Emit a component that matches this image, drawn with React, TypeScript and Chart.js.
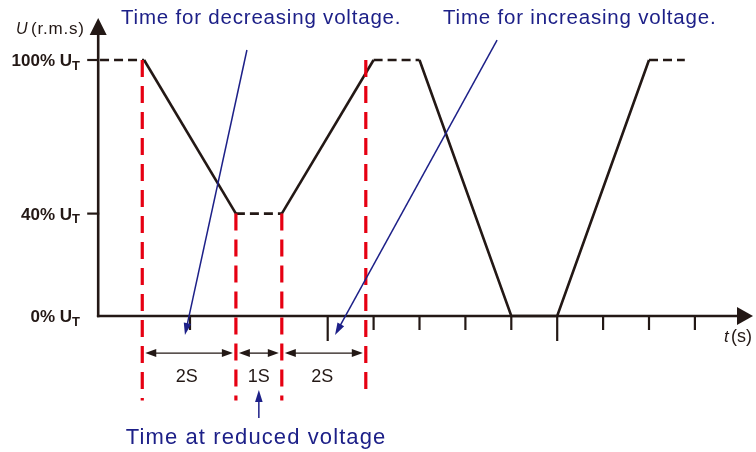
import React, { useEffect, useRef } from "react";
import { Chart, registerables } from "chart.js";
Chart.register(...registerables);

// Voltage waveform (time in s, level in % of U_T)
const waveTime = [0.04, 1, 3, 4, 6, 7, 9, 10, 12, 12.78];
const waveLevel = [100, 100, 40, 40, 100, 100, 0, 0, 100, 100];
const waveDashedSegments = [0, 2, 4, 8];

// Red dashed marker lines
const markerTimes = [0.96, 3, 4, 5.83];
const markerTop = [100, 40, 40, 100];
const markerBottom = [-33, -33, -33, -30];

// Axis ticks
const levelTicks = [100, 40, 0];
const levelLabels = ["100% U", "40% U", "0% U"];
const timeTicks = [2, 5, 6, 7, 8, 9, 10, 11, 12, 13];
const longTimeTicks = [5, 10];

// Duration spans
const spanStarts = [0.96, 3, 4];
const spanEnds = [3, 4, 5.83];
const spanLabels = ["2S", "1S", "2S"];
const spanLabelTimes = [1.93, 3.5, 4.88];
const spanLevel = -14.5;
const spanLabelLevel = -23.8;

// Blue annotations
const noteTexts = ["Time for decreasing voltage.", "Time for increasing voltage.", "Time at reduced voltage"];
const noteTextTimes = [3.55, 10.49, 3.44];
const noteTextLevels = [116.2, 116.2, -47.7];
const noteFromTimes = [3.24, 8.69, 3.5];
const noteFromLevels = [103.9, 107.8, -39.8];
const noteToTimes = [1.89, 5.16, 3.5];
const noteToLevels = [-7.4, -7.4, -28.9];

const BLACK = "#231815";
const RED = "#e60012";
const BLUE = "#1d2088";

function arrowHead(ctx: CanvasRenderingContext2D, x1: number, y1: number, x2: number, y2: number, len: number, half: number, color: string) {
  const a = Math.atan2(y2 - y1, x2 - x1);
  ctx.save();
  ctx.fillStyle = color;
  ctx.beginPath();
  ctx.moveTo(x2, y2);
  ctx.lineTo(x2 - len * Math.cos(a) + half * Math.sin(a), y2 - len * Math.sin(a) - half * Math.cos(a));
  ctx.lineTo(x2 - len * Math.cos(a) - half * Math.sin(a), y2 - len * Math.sin(a) + half * Math.cos(a));
  ctx.closePath();
  ctx.fill();
  ctx.restore();
}

const diagramPlugin = {
  id: "diagram",
  beforeDatasetsDraw(chart: any) {
    const ctx: CanvasRenderingContext2D = chart.ctx;
    const xs = chart.scales.x;
    const ys = chart.scales.y;
    const x0 = xs.getPixelForValue(0);
    const y0 = ys.getPixelForValue(0);
    ctx.save();
    ctx.strokeStyle = BLACK;
    ctx.fillStyle = BLACK;
    ctx.lineWidth = 2.6;
    // y axis
    ctx.beginPath();
    ctx.moveTo(x0, y0 + 1.3);
    ctx.lineTo(x0, 34);
    ctx.stroke();
    ctx.beginPath();
    ctx.moveTo(x0, 18);
    ctx.lineTo(x0 - 8.5, 35);
    ctx.lineTo(x0 + 8.5, 35);
    ctx.closePath();
    ctx.fill();
    // x axis
    const xe = 753;
    ctx.beginPath();
    ctx.moveTo(x0 - 1.3, y0);
    ctx.lineTo(xe - 14, y0);
    ctx.stroke();
    ctx.beginPath();
    ctx.moveTo(xe, y0);
    ctx.lineTo(xe - 16, y0 - 9);
    ctx.lineTo(xe - 16, y0 + 9);
    ctx.closePath();
    ctx.fill();
    // y ticks
    ctx.lineWidth = 2.2;
    levelTicks.forEach((v) => {
      if (v === 0) return;
      const y = ys.getPixelForValue(v);
      ctx.beginPath();
      ctx.moveTo(x0 - 11, y);
      ctx.lineTo(x0 + 1, y);
      ctx.stroke();
    });
    // x ticks
    timeTicks.forEach((t) => {
      const x = xs.getPixelForValue(t);
      const len = longTimeTicks.includes(t) ? 25 : 14;
      ctx.beginPath();
      ctx.moveTo(x, y0);
      ctx.lineTo(x, y0 + len);
      ctx.stroke();
    });
    ctx.restore();
  },
  afterDatasetsDraw(chart: any) {
    const ctx: CanvasRenderingContext2D = chart.ctx;
    const xs = chart.scales.x;
    const ys = chart.scales.y;
    const y0 = ys.getPixelForValue(0);
    ctx.save();
    // level labels
    ctx.fillStyle = BLACK;
    ctx.textBaseline = "alphabetic";
    levelTicks.forEach((v, i) => {
      const y = ys.getPixelForValue(v) + 6;
      ctx.font = "bold 13px 'Liberation Sans', Arial, sans-serif";
      ctx.textAlign = "left";
      const tw = ctx.measureText("T").width;
      ctx.fillText("T", 80 - tw, y + 3.5);
      ctx.font = "bold 17px 'Liberation Sans', Arial, sans-serif";
      ctx.textAlign = "right";
      ctx.fillText(levelLabels[i], 80 - tw, y);
    });
    // axis names
    ctx.textAlign = "left";
    ctx.font = "italic 16px 'Liberation Sans', Arial, sans-serif";
    ctx.fillText("U", 16, 34);
    ctx.font = "17px 'Liberation Sans', Arial, sans-serif";
    (ctx as any).letterSpacing = "0.8px";
    ctx.fillText("(r.m.s)", 31, 34);
    (ctx as any).letterSpacing = "0px";
    ctx.font = "italic 17px 'Liberation Sans', Arial, sans-serif";
    ctx.fillText("t", 724, y0 + 26);
    ctx.font = "18px 'Liberation Sans', Arial, sans-serif";
    ctx.fillText("(s)", 731, y0 + 26);

    // spans
    ctx.strokeStyle = BLACK;
    ctx.lineWidth = 1.3;
    spanStarts.forEach((s, i) => {
      const xa = xs.getPixelForValue(s) + 3;
      const xb = xs.getPixelForValue(spanEnds[i]) - 3;
      const y = ys.getPixelForValue(spanLevel);
      ctx.beginPath();
      ctx.moveTo(xa + 6, y);
      ctx.lineTo(xb - 6, y);
      ctx.stroke();
      arrowHead(ctx, xb, y, xa, y, 11, 4, BLACK);
      arrowHead(ctx, xa, y, xb, y, 11, 4, BLACK);
      ctx.font = "18px 'Liberation Sans', Arial, sans-serif";
      ctx.textAlign = "center";
      ctx.textBaseline = "middle";
      ctx.fillStyle = BLACK;
      ctx.fillText(spanLabels[i], xs.getPixelForValue(spanLabelTimes[i]), ys.getPixelForValue(spanLabelLevel));
    });

    // blue notes
    ctx.strokeStyle = BLUE;
    ctx.fillStyle = BLUE;
    ctx.lineWidth = 1.5;
    noteTexts.forEach((txt, i) => {
      const fx = xs.getPixelForValue(noteFromTimes[i]);
      const fy = ys.getPixelForValue(noteFromLevels[i]);
      const tx = xs.getPixelForValue(noteToTimes[i]);
      const ty = ys.getPixelForValue(noteToLevels[i]);
      const a = Math.atan2(ty - fy, tx - fx);
      ctx.beginPath();
      ctx.moveTo(fx, fy);
      ctx.lineTo(tx - 8 * Math.cos(a), ty - 8 * Math.sin(a));
      ctx.stroke();
      arrowHead(ctx, fx, fy, tx, ty, 12, 3.8, BLUE);
      ctx.font = i === 2 ? "22px 'Liberation Sans', Arial, sans-serif" : "20.5px 'Liberation Sans', Arial, sans-serif";
      (ctx as any).letterSpacing = i === 2 ? "1.1px" : "0.8px";
      ctx.textAlign = "center";
      ctx.textBaseline = "middle";
      ctx.fillStyle = BLUE;
      ctx.fillText(txt, xs.getPixelForValue(noteTextTimes[i]), ys.getPixelForValue(noteTextLevels[i]));
      (ctx as any).letterSpacing = "0px";
    });
    ctx.restore();
  },
};

export default function App() {
  const ref = useRef<HTMLCanvasElement | null>(null);
  useEffect(() => {
    if (!ref.current) return;
    const pxPerSec = 45.9;
    const pxPerPct = 2.56;
    const originX = 98.2;
    const originY = 316;
    const W = 756;
    const H = 452;
    const wave = waveTime.map((t, i) => ({ x: t, y: waveLevel[i] }));
    const markers = markerTimes.map((t, i) => ({
      type: "line" as const,
      data: [
        { x: t, y: markerTop[i] },
        { x: t, y: markerBottom[i] },
      ],
      borderColor: RED,
      borderWidth: 3.2,
      borderDash: [17, 9],
      pointRadius: 0,
      fill: false,
      clip: false as any,
      order: 0,
    }));
    const chart = new Chart(ref.current, {
      type: "line",
      data: {
        datasets: [
          {
            data: wave,
            borderColor: BLACK,
            borderWidth: 2.6,
            pointRadius: 0,
            fill: false,
            clip: false as any,
            order: 1,
            segment: {
              borderDash: (c: any) => (waveDashedSegments.includes(c.p0DataIndex) ? [9, 5] : []),
            },
          } as any,
          ...markers,
        ],
      },
      options: {
        animation: false,
        responsive: true,
        maintainAspectRatio: false,
        layout: { padding: 0 },
        events: [],
        scales: {
          x: { type: "linear", display: false, min: -originX / pxPerSec, max: (W - originX) / pxPerSec },
          y: { type: "linear", display: false, min: -(H - originY) / pxPerPct, max: originY / pxPerPct },
        },
        plugins: { legend: { display: false }, tooltip: { enabled: false } },
      },
      plugins: [diagramPlugin],
    });
    return () => chart.destroy();
  }, []);
  return (
    <div style={{ position: "fixed", left: 0, top: 0, width: 756, height: 452, background: "#fff" }}>
      <canvas ref={ref} />
    </div>
  );
}
